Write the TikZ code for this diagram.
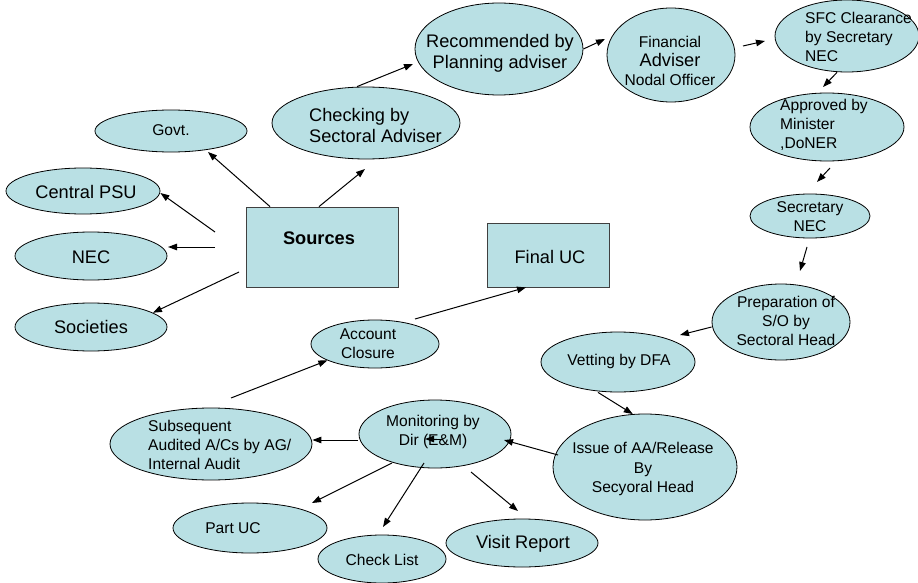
\documentclass[tikz,border=0pt]{standalone}
\usepackage{fontspec}
\setmainfont{Liberation Sans}
\usetikzlibrary{shapes.geometric,arrows.meta}
\definecolor{cfill}{RGB}{185,224,228}
\newcommand{\fsm}{\fontsize{15.6}{19.2}\selectfont}
\newcommand{\flg}{\fontsize{18.2}{21}\selectfont}
\begin{document}
\begin{tikzpicture}[x=1pt,y=-1pt,
  ell/.style={ellipse, draw=black, line width=0.8pt, fill=cfill, inner sep=0pt},
  boxnode/.style={rectangle, draw=black!75, fill=cfill, line width=0.8pt, inner sep=0pt},
  txs/.style={font=\fsm, align=center, inner sep=0pt},
  txl/.style={font=\flg, align=center, inner sep=0pt},
  arr/.style={-{Triangle[length=9pt,width=6.5pt]}, line width=1pt}]
\useasboundingbox (0,0) rectangle (918,583);

% shapes
\node[ell, minimum width=152pt, minimum height=42pt] (govt) at (171,131) {};
\node[ell, minimum width=154pt, minimum height=46pt] (cpsu) at (83,191) {};
\node[ell, minimum width=152pt, minimum height=48pt] (nec) at (91,256) {};
\node[ell, minimum width=152pt, minimum height=48pt] (soc) at (91,327) {};
\node[boxnode, minimum width=152pt, minimum height=80pt] (src) at (322,247) {};
\node[ell, minimum width=188pt, minimum height=72pt] (chk) at (366,123) {};
\node[ell, minimum width=168pt, minimum height=92pt] (rec) at (499,49) {};
\node[ell, minimum width=128pt, minimum height=94pt] (fin) at (671,55) {};
\node[ell, minimum width=144pt, minimum height=72pt] (sfc) at (847,36) {};
\node[ell, minimum width=154pt, minimum height=68pt] (app) at (827,127) {};
\node[ell, minimum width=120pt, minimum height=44pt] (sec) at (810,216) {};
\node[ell, minimum width=138pt, minimum height=76pt] (prep) at (781,322) {};
\node[ell, minimum width=154pt, minimum height=60pt] (vet) at (618,362) {};
\node[ell, minimum width=184pt, minimum height=106pt] (iss) at (645,467) {};
\node[boxnode, minimum width=122pt, minimum height=64pt] (fuc) at (548,255) {};
\node[ell, minimum width=128pt, minimum height=48pt] (acc) at (375,344) {};
\node[ell, minimum width=202pt, minimum height=72pt] (sub) at (211,444) {};
\node[ell, minimum width=152pt, minimum height=68pt] (mon) at (435,434) {};
\node[ell, minimum width=154pt, minimum height=50pt] (puc) at (250,528) {};
\node[ell, minimum width=128pt, minimum height=48pt] (chl) at (382,559) {};
\node[ell, minimum width=152pt, minimum height=48pt] (vis) at (522,543) {};

% texts
\node[txs] (govtT) at (171,130) {Govt.};
\node[txl] (cpsuT) at (86,192) {Central PSU};
\node[txl] (necT) at (91,257) {NEC};
\node[txl] (socT) at (91,327) {Societies};
\node[txl, font=\flg\bfseries] (srcT) at (319,238) {Sources};
\node[txl, align=left, anchor=west] (chkT) at (309,125) {Checking by\\Sectoral Adviser};
\node[txl] (recT) at (500,53) {Recommended by\\Planning adviser};
\node[txs] (finT) at (670,61) {Financial\\{\flg Adviser}\\Nodal Officer};
\node[txs, align=left, anchor=west] (sfcT) at (805,37) {SFC Clearance\\by Secretary\\NEC};
\node[txs, align=left, anchor=west] (appT) at (780,125) {Approved by\\Minister\\,DoNER};
\node[txs] (secT) at (810,217) {Secretary\\NEC};
\node[txs] (prepT) at (786,321) {Preparation of\\S/O by\\Sectoral Head};
\node[txs] (vetT) at (619,361) {Vetting by DFA};
\node[txs] (issT) at (643,469) {Issue of AA/Release\\By\\Secyoral Head};
\node[txl] (fucT) at (550,257) {Final UC};
\node[txs] (accT) at (368,344) {Account\\Closure};
\node[txs, align=left, anchor=west] (subT) at (148,445) {Subsequent\\Audited A/Cs by AG/\\Internal Audit};
\node[txs] (monT) at (433,432) {Monitoring by\\Dir (E\&M)};
\node[txs] (pucT) at (233,528) {Part UC};
\node[txs] (chlT) at (382,560) {Check List};
\node[txl] (visT) at (523,544) {Visit Report};

% free connector ends
\coordinate (a1) at (208,152);
\coordinate (a2) at (365,169);
\coordinate (b3) at (215,232);
\coordinate (b4) at (215,247);
\coordinate (a4) at (168,247);
\coordinate (b5) at (239,272);
\coordinate (a6) at (413,64);
\coordinate (a7) at (605,39);
\coordinate (b8) at (743,46);
\coordinate (a8) at (765,41);
\coordinate (a9) at (823,87);
\coordinate (b10) at (830,168);
\coordinate (a10) at (817,182);
\coordinate (b11) at (807,247);
\coordinate (a11) at (800,271);
\coordinate (a12) at (680,335);
\coordinate (b14) at (558,455);
\coordinate (a14) at (504,440);
\coordinate (b15) at (358,440);
\coordinate (b16) at (392,463);
\coordinate (a16) at (312,503);
\coordinate (b17) at (424,463);
\coordinate (a17) at (383,527);
\coordinate (b18) at (471,472);
\coordinate (a18) at (518,511);
\coordinate (b19) at (442,439);
\coordinate (a19) at (425,439);
\coordinate (b20) at (231,398);
\coordinate (b21) at (415,319);

% connectors
\draw[arr] ([xshift=-52pt]src.north) -- (a1);
\draw[arr] ([xshift=-3pt]src.north) -- (a2);
\draw[arr] (b3) -- ([yshift=-2pt]cpsu.east);
\draw[arr] (b4) -- (a4);
\draw[arr] (b5) -- (soc.13);
\draw[arr] ([xshift=-9pt]chk.north) -- (a6);
\draw[arr] (rec.east) -- (a7);
\draw[arr] (b8) -- (a8);
\draw[arr] ([xshift=-10pt]sfc.south) -- (a9);
\draw[arr] (b10) -- (a10);
\draw[arr] (b11) -- (a11);
\draw[arr] ([yshift=-5pt]prep.west) -- (a12);
\draw[arr] ([xshift=-20pt]vet.south) -- (iss.103);
\draw[arr] (b14) -- (a14);
\draw[arr] (b15) -- ([yshift=4pt]sub.east);
\draw[arr] (b16) -- (a16);
\draw[arr] (b17) -- (a17);
\draw[arr] (b18) -- (a18);
\draw[arr] (b19) -- (a19);
\draw[arr] (b20) -- (acc.199);
\draw[arr] (b21) -- ([xshift=-22pt]fuc.south);
\end{tikzpicture}
\end{document}
